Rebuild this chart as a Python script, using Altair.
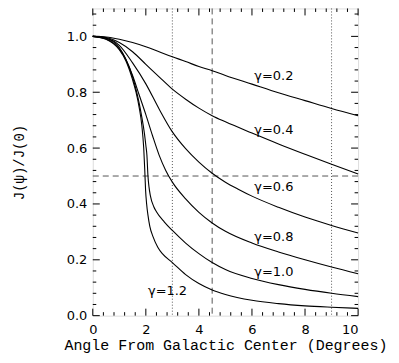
import altair as alt
import pandas as pd

# ---- curve data (J(psi)/J(0) vs angle) ----
x_g02 = [0, 0.5, 1, 1.5, 2, 2.5, 3, 3.5, 4, 4.5, 5, 6, 7, 8, 9, 10]
y_g02 = [1.0, 0.998, 0.99, 0.978, 0.963, 0.945, 0.927, 0.91, 0.892, 0.877, 0.86, 0.829, 0.798, 0.77, 0.742, 0.716]

x_g04 = [0, 0.5, 1, 1.5, 2, 2.5, 3, 3.5, 4, 4.5, 5, 6, 7, 8, 9, 10]
y_g04 = [1.0, 0.996, 0.978, 0.945, 0.9, 0.855, 0.811, 0.775, 0.743, 0.716, 0.694, 0.654, 0.615, 0.578, 0.542, 0.507]

x_g06 = [0, 0.5, 1, 1.5, 2, 2.5, 3, 3.5, 4, 4.5, 5, 5.5, 6, 7, 8, 9, 10]
y_g06 = [1.0, 0.994, 0.968, 0.905, 0.83, 0.74, 0.658, 0.598, 0.55, 0.51, 0.478, 0.452, 0.428, 0.388, 0.353, 0.323, 0.296]

x_g08 = [0, 0.5, 1, 1.5, 1.75, 2, 2.25, 2.5, 2.75, 3, 3.5, 4, 4.5, 5, 6, 7, 8, 9, 10]
y_g08 = [1.0, 0.993, 0.96, 0.86, 0.79, 0.72, 0.645, 0.575, 0.52, 0.478, 0.418, 0.37, 0.332, 0.302, 0.26, 0.228, 0.2, 0.174, 0.15]

x_g10 = [0, 0.5, 1, 1.25, 1.5, 1.63, 1.75, 1.85, 1.95, 2.0, 2.04, 2.08, 2.12, 2.17, 2.3, 2.4, 2.7, 3, 3.5, 4, 4.5, 5, 6, 7, 8, 9, 10]
y_g10 = [1.0, 0.991, 0.955, 0.917, 0.855, 0.81, 0.76, 0.71, 0.65, 0.61, 0.575, 0.5, 0.46, 0.43, 0.39, 0.372, 0.335, 0.305, 0.26, 0.222, 0.19, 0.165, 0.133, 0.111, 0.094, 0.08, 0.068]

x_g12 = [0, 0.5, 1, 1.25, 1.5, 1.63, 1.75, 1.85, 1.92, 1.96, 1.99, 2.03, 2.08, 2.15, 2.27, 2.45, 2.64, 3, 3.5, 4, 4.5, 5, 6, 7, 8, 9, 10]
y_g12 = [1.0, 0.99, 0.952, 0.912, 0.845, 0.8, 0.745, 0.68, 0.6, 0.52, 0.45, 0.4, 0.36, 0.32, 0.283, 0.245, 0.22, 0.19, 0.147, 0.115, 0.092, 0.076, 0.055, 0.043, 0.035, 0.03, 0.026]

gammas = ["0.2", "0.4", "0.6", "0.8", "1.0", "1.2"]
series_x = [x_g02, x_g04, x_g06, x_g08, x_g10, x_g12]
series_y = [y_g02, y_g04, y_g06, y_g08, y_g10, y_g12]

# curve labels
label_text = ["γ=0.2", "γ=0.4", "γ=0.6", "γ=0.8", "γ=1.0", "γ=1.2"]
label_x = [6.09, 6.09, 6.09, 6.09, 6.09, 2.08]
label_y = [0.857, 0.666, 0.46, 0.28, 0.155, 0.09]

# reference lines
dotted_x = [3, 9]
dashed_x = [4.5]
dashed_y = [0.5]

# axis ticks
x_major = [0, 2, 4, 6, 8, 10]
x_minor = [0.4, 0.8, 1.2, 1.6, 2.4, 2.8, 3.2, 3.6, 4.4, 4.8, 5.2, 5.6,
           6.4, 6.8, 7.2, 7.6, 8.4, 8.8, 9.2, 9.6]
y_major = [0.0, 0.2, 0.4, 0.6, 0.8, 1.0]
y_minor = [0.04, 0.08, 0.12, 0.16, 0.24, 0.28, 0.32, 0.36, 0.44, 0.48, 0.52, 0.56,
           0.64, 0.68, 0.72, 0.76, 0.84, 0.88, 0.92, 0.96, 1.04, 1.08]

W, H = 266, 308
MAJ, MIN = 7, 3.5

rows = []
for g, xs, ys in zip(gammas, series_x, series_y):
    for a, b in zip(xs, ys):
        rows.append({"angle": a, "ratio": b, "gamma": g})
curves_df = pd.DataFrame(rows)

xs_ = alt.Scale(domain=[0, 10], nice=False, zero=False)
ys_ = alt.Scale(domain=[0, 1.1], nice=False, zero=False)

x_axis = alt.Axis(
    values=x_major, format="d", ticks=False, domain=False, grid=False,
    labelFont="DejaVu Sans", labelFontSize=13, labelColor="black", labelPadding=8,
    labelFlush=False,
    labelAlign={"condition": {"test": "datum.value == 10", "value": "right"}, "value": "center"},
    title="Angle From Galactic Center (Degrees)", titleFont="Liberation Mono",
    titleFontSize=15, titleFontWeight="normal", titleColor="black", titlePadding=1,
)
y_axis = alt.Axis(
    values=y_major, format=".1f", ticks=False, domain=False, grid=False,
    labelFont="DejaVu Sans", labelFontSize=13, labelColor="black", labelPadding=6,
    title="J(ψ)/J(0)", titleFont="Liberation Mono", titleFontSize=14,
    titleFontWeight="normal", titleColor="black", titlePadding=40,
)

lines = alt.Chart(curves_df).mark_line(color="black", strokeWidth=1.1, interpolate="monotone").encode(
    x=alt.X("angle:Q", scale=xs_, axis=x_axis),
    y=alt.Y("ratio:Q", scale=ys_, axis=y_axis),
    detail="gamma:N",
)

ref_style = dict(color="#555555", strokeWidth=1)
vdot = alt.Chart(pd.DataFrame({"v": dotted_x})).mark_rule(strokeDash=[1, 2], **ref_style).encode(
    x=alt.X("v:Q", scale=xs_))
vdash = alt.Chart(pd.DataFrame({"v": dashed_x})).mark_rule(strokeDash=[6, 4], **ref_style).encode(
    x=alt.X("v:Q", scale=xs_))
hdash = alt.Chart(pd.DataFrame({"v": dashed_y})).mark_rule(strokeDash=[6, 4], **ref_style).encode(
    y=alt.Y("v:Q", scale=ys_))

labels = alt.Chart(pd.DataFrame({"t": label_text, "x": label_x, "y": label_y})).mark_text(
    align="left", baseline="middle", font="DejaVu Sans", fontSize=13, color="black"
).encode(x=alt.X("x:Q", scale=xs_), y=alt.Y("y:Q", scale=ys_), text="t:N")

def xticks(vals, length):
    d = pd.DataFrame({"v": vals})
    bottom = alt.Chart(d).mark_rule(color="black", strokeWidth=1).encode(
        x=alt.X("v:Q", scale=xs_), y=alt.value(H), y2=alt.value(H - length))
    top = alt.Chart(d).mark_rule(color="black", strokeWidth=1).encode(
        x=alt.X("v:Q", scale=xs_), y=alt.value(0), y2=alt.value(length))
    return bottom + top

def yticks(vals, length):
    d = pd.DataFrame({"v": vals})
    left = alt.Chart(d).mark_rule(color="black", strokeWidth=1).encode(
        y=alt.Y("v:Q", scale=ys_), x=alt.value(0), x2=alt.value(length))
    right = alt.Chart(d).mark_rule(color="black", strokeWidth=1).encode(
        y=alt.Y("v:Q", scale=ys_), x=alt.value(W), x2=alt.value(W - length))
    return left + right

chart = alt.layer(
    vdot, vdash, hdash, lines, labels,
    xticks(x_major, MAJ), xticks(x_minor, MIN), yticks(y_major, MAJ), yticks(y_minor, MIN),
).properties(
    width=W, height=H,
    autosize=alt.AutoSizeParams(type="none"),
    padding={"left": 85, "top": 0, "right": 33, "bottom": 40},
).configure_view(stroke="black", strokeWidth=1.2).configure(background="white")

chart.save("out.html", embed_options={"renderer": "svg", "actions": False})
